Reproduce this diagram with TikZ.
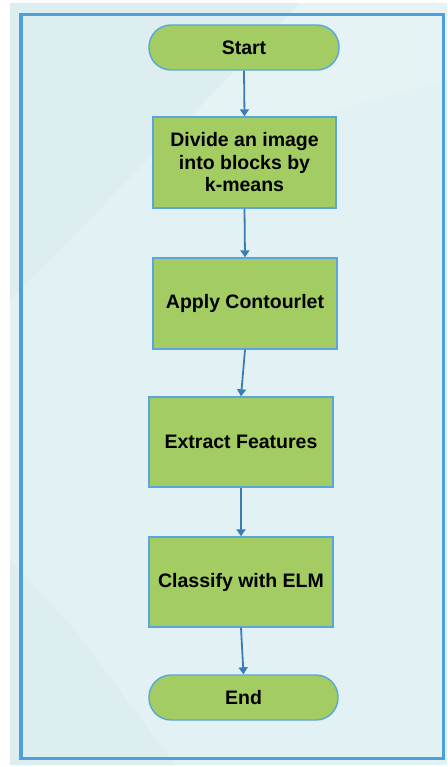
\documentclass[tikz,border=0pt]{standalone}
\usepackage{fontspec}
\setmainfont{Liberation Sans}
\usetikzlibrary{arrows.meta}
\definecolor{bgbase}{HTML}{E2F1F3}
\definecolor{bgdark}{HTML}{DCEEF0}
\definecolor{bglight}{HTML}{E6F3F5}
\definecolor{frameblue}{HTML}{4EA0DC}
\definecolor{boxgreen}{HTML}{A3CC63}
\definecolor{boxedge}{HTML}{5AA5DB}
\definecolor{arrowblue}{HTML}{3A7DB5}
\tikzset{
  stepbox/.style={draw=boxedge, line width=1.4pt, fill=boxgreen,
    font=\fontsize{19.5}{22.5}\selectfont\bfseries, align=center,
    inner sep=0pt},
  terminal/.style={stepbox, rounded corners=22pt},
  flow/.style={draw=arrowblue, line width=1.8pt,
    -{Triangle[length=7pt,width=9pt]}}
}
\begin{document}
\begin{tikzpicture}[x=1pt,y=-1pt]
  \useasboundingbox (0,0) rectangle (447,767);
  % page background with soft facets
  \fill[white] (0,0) rectangle (447,767);
  \fill[bgbase] (10,3) rectangle (447,765);
  \fill[bgdark] (10,3) -- (300,3) -- (30,280) -- (10,300) -- cycle;
  \fill[bglight] (300,3) -- (447,3) -- (447,80) -- (150,160) -- cycle;
  \fill[bgdark] (10,560) -- (75,630) -- (175,765) -- (10,765) -- cycle;
  % outer frame
  \draw[frameblue, line width=3.5pt] (21,14.5) rectangle (443.5,758.5);
  % flowchart nodes
  \node[terminal, minimum width=190pt, minimum height=45pt] (start) at (244,47.5) {Start};
  \node[stepbox, minimum width=183pt, minimum height=91pt] (divide) at (244.5,162.5) {Divide an image\\into blocks by\\k-means};
  \node[stepbox, minimum width=184pt, minimum height=91pt] (apply) at (245,303.5) {Apply Contourlet};
  \node[stepbox, minimum width=184pt, minimum height=90pt] (extract) at (241,442) {Extract Features};
  \node[stepbox, minimum width=184pt, minimum height=90pt] (classify) at (241,582) {Classify with ELM};
  \node[terminal, minimum width=189pt, minimum height=45pt] (end) at (243.5,697.5) {End};
  % connectors
  \draw[flow] (start.south) -- (divide.north);
  \draw[flow] (divide.south) -- (apply.north);
  \draw[flow] (apply.south) -- (extract.north);
  \draw[flow] (extract.south) -- (classify.north);
  \draw[flow] (classify.south) -- (end.north);
\end{tikzpicture}
\end{document}
